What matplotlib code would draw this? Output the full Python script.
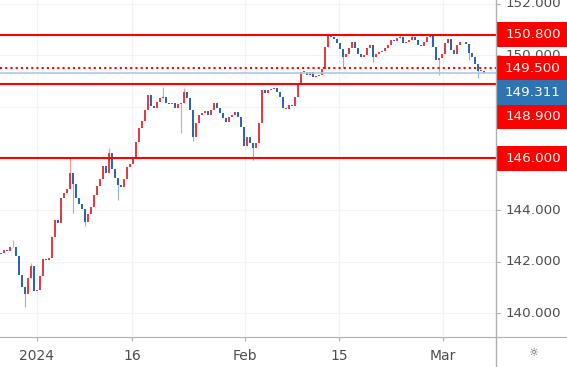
import matplotlib
matplotlib.use("Agg")
import matplotlib.pyplot as plt
from matplotlib.patches import Rectangle
from matplotlib.lines import Line2D

# 4h-ish candles, closes left to right
closes = [
    142.34, 142.45, 142.40, 142.55, 142.58, 142.20, 141.50, 141.00, 140.75, 141.35,
    141.85, 140.88, 140.92, 141.45, 142.10, 142.05, 142.15, 142.95, 143.60, 143.50,
    144.45, 144.65, 144.80, 145.45, 145.00, 144.45, 144.25, 144.05, 143.55, 143.85,
    144.10, 144.60, 144.95, 145.20, 145.72, 145.45, 146.20, 145.60, 145.25, 144.97,
    144.90, 145.20, 145.68, 145.80, 146.07, 146.65, 147.18, 147.45, 147.88, 148.46,
    148.05, 147.96, 148.18, 148.33, 148.40, 148.15, 148.10, 148.15, 147.96, 148.10,
    148.15, 148.59, 148.35, 147.88, 146.84, 147.38, 147.70, 147.76, 147.85, 147.69,
    147.88, 148.14, 147.95, 147.76, 147.55, 147.43, 147.60, 147.69, 147.80, 147.62,
    147.20, 146.50, 146.84, 146.60, 146.39, 146.60, 147.36, 148.65, 148.55, 148.65,
    148.70, 148.72, 148.59, 148.40, 147.95, 147.90, 148.07, 148.05, 148.40, 148.90,
    149.36, 149.36, 149.24, 149.35, 149.17, 149.20, 149.22, 149.45, 150.30, 150.80,
    150.72, 150.62, 150.47, 150.25, 149.95, 150.05, 150.27, 150.50, 150.27, 150.05,
    149.95, 150.00, 150.27, 150.38, 149.95, 150.05, 150.14, 150.18, 150.27, 150.38,
    150.59, 150.57, 150.66, 150.72, 150.47, 150.50, 150.59, 150.72, 150.60, 150.40,
    150.35, 150.50, 150.72, 150.76, 150.30, 149.80, 149.88, 150.05, 150.47, 150.62,
    150.20, 150.05, 150.40, 150.53, 150.50, 150.45, 150.08, 149.95, 149.65, 149.40,
    149.40, 149.31,
]
first_open = 142.30
wick_hi = {4: 142.84, 10: 141.95, 23: 146.02, 36: 146.40, 54: 148.78, 61: 148.72,
           109: 150.88, 133: 150.79, 137: 150.80, 143: 150.82}
wick_lo = {8: 140.26, 24: 143.90, 28: 143.40, 39: 144.39, 60: 146.99, 64: 146.68,
           84: 145.94, 114: 149.50, 124: 149.75, 146: 149.24, 156: 149.82, 159: 149.13}

levels = [150.8, 149.5, 148.9, 146.0]
dotted_level = 149.5
last_price = 149.311
price_ticks = [140, 142, 144, 146, 148, 150, 152]
date_pos = [12.0, 43.67, 81.33, 112.67, 147.33]
date_labels = ["2024", "16", "Feb", "15", "Mar"]

UP = "#e23c47"
DOWN = "#2c67ad"
RED = "#ff0000"
GRAY = "#4d4d4d"
AXIS = "#b0b0b0"

W, H = 567, 367
fig = plt.figure(figsize=(W / 100, H / 100), dpi=100)
fig.patch.set_facecolor("white")
ax = fig.add_axes([0, 30 / H, 496 / W, 337 / H])
ax2 = fig.add_axes([496 / W, 30 / H, 71 / W, 337 / H])
ylim = (139.08, 152.14)

# candles
opens = [first_open] + closes[:-1]
for i, (o, c) in enumerate(zip(opens, closes)):
    col = UP if c >= o else DOWN
    lo_b, hi_b = min(o, c), max(o, c)
    hi = wick_hi.get(i, hi_b)
    lo = wick_lo.get(i, lo_b)
    if hi > hi_b or lo < lo_b:
        ax.vlines(i, lo, hi, color=col, lw=0.8, alpha=0.5, zorder=2)
    ax.bar(i, max(hi_b - lo_b, 0.03), bottom=lo_b, width=0.8, color=col, lw=0, zorder=3)

# horizontal levels
ax.axhline(last_price, color="#a9cbe3", lw=1.2, zorder=3.5)
for v in levels:
    ls = (0, (1, 1.5)) if v == dotted_level else "-"
    ax.axhline(v, color=RED, lw=1.5, ls=ls, zorder=4)

ax.set_xlim(-1 / 3, 495 / 3)
ax.set_ylim(*ylim)
ax.set_yticks(price_ticks)
ax.set_xticks(date_pos, date_labels)
ax.grid(color="#f3f3f3", lw=0.8, zorder=0)
ax.tick_params(axis="y", left=False, labelleft=False)
ax.tick_params(axis="x", length=3, color=AXIS, labelcolor=GRAY, labelsize=10, pad=6)
for s in ["left", "top", "right"]:
    ax.spines[s].set_visible(False)
ax.spines["bottom"].set_color(AXIS)

# price scale
ax2.set_xlim(0, 1)
ax2.set_ylim(*ylim)
ax2.set_xticks([])
ax2.set_yticks([])
for s in ["left", "top", "right"]:
    ax2.spines[s].set_visible(False)
ax2.spines["bottom"].set_color(AXIS)
for v in price_ticks:
    ax2.plot([0, 0.06], [v, v], color=AXIS, lw=0.8)
    ax2.text(0.52, v, f"{v:.3f}", ha="center", va="center", color=GRAY, fontsize=9.7, zorder=2)

# stacked labels for the lines
box_h = 0.94
tags = sorted([(v, RED) for v in levels] + [(last_price, "#2e74b3")], key=lambda t: -t[0])
prev = None
for v, col in tags:
    pos = v if prev is None else min(v, prev - box_h)
    prev = pos
    ax2.add_patch(Rectangle((0, pos - box_h / 2), 1.0, box_h, color=col, lw=0, zorder=5, clip_on=False))
    ax2.text(0.52, pos, f"{v:.3f}", ha="center", va="center", color="white", fontsize=9.7, zorder=6)

fig.add_artist(Line2D([496 / W, 496 / W], [0, 1], transform=fig.transFigure, color=AXIS, lw=1))
fig.text(533 / W, 1 - 353 / H, "\u263c", ha="center", va="center", color=GRAY, fontsize=8)

fig.savefig("out.png", dpi=100, facecolor=fig.get_facecolor())
plt.close(fig)
